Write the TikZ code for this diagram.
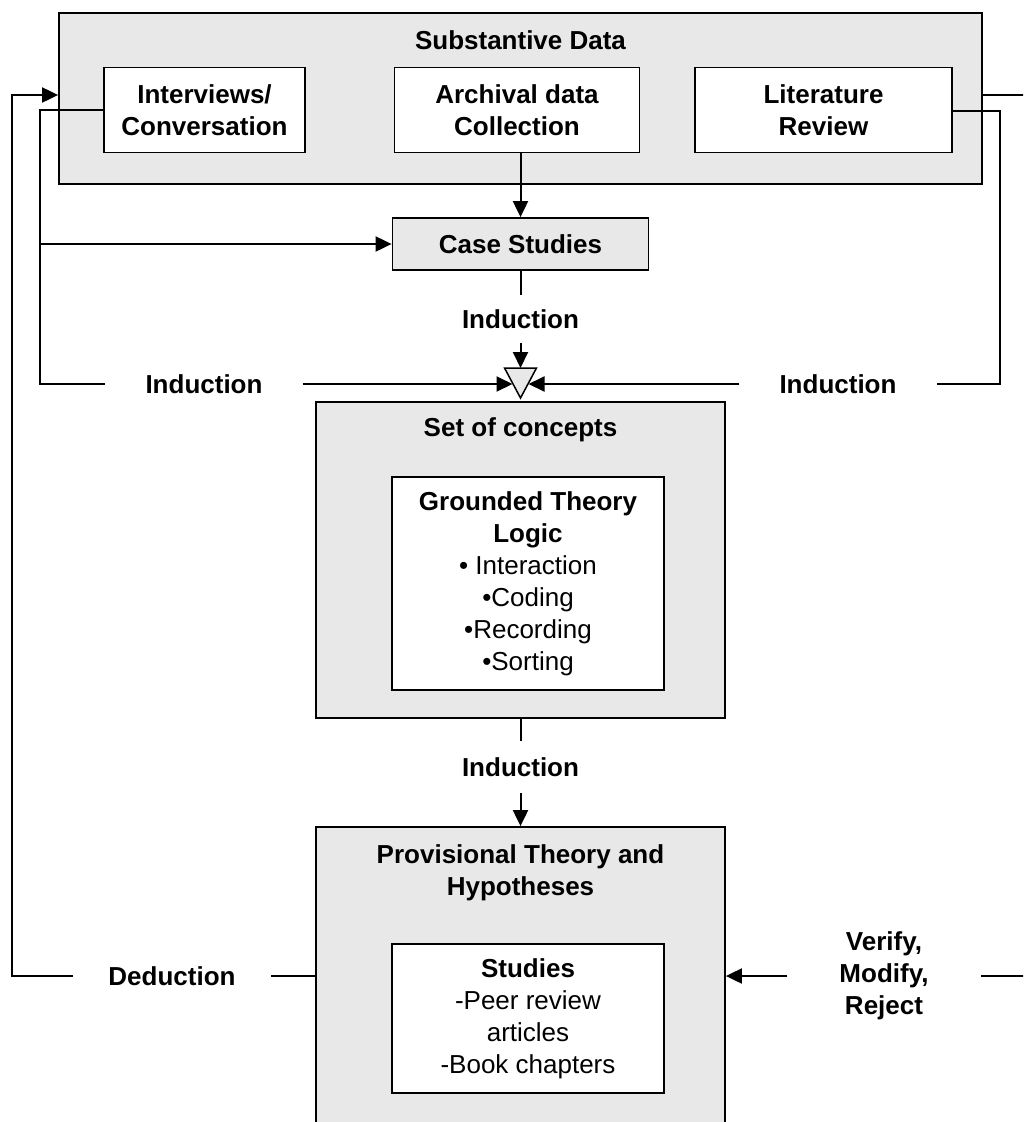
\documentclass[tikz,border=0pt]{standalone}
\usepackage{fontspec}
\setmainfont{Liberation Sans}
\usetikzlibrary{arrows.meta, positioning}

\definecolor{boxgray}{RGB}{232,232,232}
\newcommand{\bigtext}{\fontsize{26}{32}\selectfont}

\begin{document}
\begin{tikzpicture}
% Style
[
    x=1pt, y=-1pt,
    outer box/.style={draw, line width=1.8pt, fill=boxgray, inner sep=0pt},
    inner box/.style={draw, line width=1.8pt, fill=white, align=center, inner sep=0pt, font=\bigtext},
    title text/.style={align=center, inner sep=0pt, font=\bigtext\bfseries},
    wire label/.style={align=center, inner xsep=40pt, inner ysep=15pt, font=\bigtext\bfseries},
    wire/.style={line width=2pt},
    arrow wire/.style={wire, -{Triangle[length=16pt, width=15pt]}}
]

% Define: Frame
\useasboundingbox (0,0) rectangle (1023,1122);
\clip (0,0) rectangle (1023,1122);

%================================== Boxes ==================================
{
    % Draw: Substantive data
    \node[outer box, minimum width=923pt, minimum height=171pt] (subst) at (520.5,98.5) {};
    \node[title text] (substtitle) at (520.5,40) {Substantive Data};
    \node[inner box, font=\bigtext\bfseries, minimum width=201pt, minimum height=85pt] (interv) at (204.5,110) {Interviews/\\Conversation};
    \node[inner box, font=\bigtext\bfseries, minimum width=245pt, minimum height=85pt] (archiv) at (517,110) {Archival data\\Collection};
    \node[inner box, font=\bigtext\bfseries, minimum width=257pt, minimum height=85pt] (litrev) at (823.5,110) {Literature\\Review};

    % Draw: Case studies
    \node[outer box, font=\bigtext\bfseries, minimum width=256pt, minimum height=52pt] (cases) at (520.5,244) {Case Studies};

    % Draw: Merge triangle
    \draw[line width=1.5pt, fill=boxgray] (504.5,368) -- (536.5,368) -- (520.5,398) -- cycle;
    \coordinate (trin) at (520.5,368);
    \coordinate (tril) at (512.5,384);
    \coordinate (trir) at (528.5,384);

    % Draw: Set of concepts
    \node[outer box, minimum width=409pt, minimum height=316pt] (concepts) at (520.5,560) {};
    \node[title text] (conctitle) at (520.5,430) {Set of concepts};
    \node[inner box, minimum width=272pt, minimum height=213pt] (gtl) at (528,583.5)
        {\textbf{Grounded Theory}\\\textbf{Logic}\\• Interaction\\•Coding\\•Recording\\•Sorting};

    % Draw: Provisional theory
    \node[outer box, minimum width=409pt, minimum height=320pt] (prov) at (520.5,987) {};
    \node[title text] (provtitle) at (520.5,873) {Provisional Theory and\\Hypotheses};
    \node[inner box, minimum width=272pt, minimum height=149pt] (stud) at (528,1018.5)
        {\textbf{Studies}\\-Peer review\\articles\\-Book chapters};
}

%================================== Wires ==================================
{
    % Define: Labels
    \node[wire label, inner ysep=14pt] (indtop) at (520.5,319) {Induction};
    \node[wire label, inner ysep=16pt] (indmid) at (520.5,767) {Induction};
    \node[wire label] (indl) at (204,384) {Induction};
    \node[wire label] (indr) at (838,384) {Induction};
    \node[wire label, inner xsep=35pt] (ded) at (172,976) {Deduction};
    \node[wire label, inner xsep=52pt, inner ysep=4pt] (vmr) at (884,976) {Verify,\\Modify,\\Reject};

    % Draw: Down the middle
    \draw[arrow wire] (cases.north |- archiv.south) -- (cases.north);
    \draw[wire] (cases) -- (indtop);
    \draw[arrow wire] (indtop) -- (trin);
    \draw[wire] (concepts) -- (indmid);
    \draw[arrow wire] (indmid) -- (prov);

    % Draw: Left side
    \coordinate (lin) at (40,110);
    \coordinate (lcase) at (40,244);
    \coordinate (lbot) at (40,384);
    \draw[wire] (interv.west |- lin) -- (lin) -- (lbot) -- (indl);
    \draw[arrow wire] (indl) -- (tril);
    \draw[arrow wire] (lcase) -- (cases.west);

    % Draw: Right side
    \coordinate (rin) at (1000,111);
    \coordinate (rbot) at (1000,384);
    \draw[wire] (litrev.east |- rin) -- (rin) -- (rbot) -- (indr);
    \draw[arrow wire] (indr) -- (trir);

    % Draw: Deduction loop
    \coordinate (lfar) at (12,976);
    \coordinate (ltop) at (12,95);
    \draw[wire] (prov.west |- ded) -- (ded);
    \draw[arrow wire] (ded) -- (lfar) -- (ltop) -- (subst.west |- ltop);

    % Draw: Verify loop (leaves the page)
    \coordinate (rtop) at (1030,95);
    \coordinate (rlow) at (1030,976);
    \draw[wire] (subst.east |- rtop) -- (rtop);
    \draw[wire] (rlow) -- (vmr);
    \draw[arrow wire] (vmr) -- (prov.east |- vmr);
}
%==================================== END ====================================

\end{tikzpicture}
\end{document}
